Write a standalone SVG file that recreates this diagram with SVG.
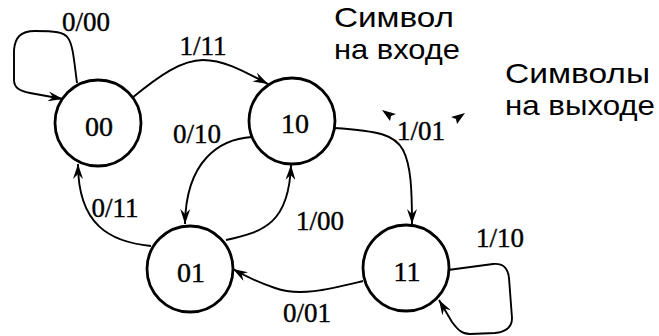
<svg xmlns="http://www.w3.org/2000/svg" width="659" height="336" viewBox="0 0 659 336">
<style>
.node{fill:none;stroke:#000;stroke-width:2.8}
.edge{fill:none;stroke:#000;stroke-width:1.9}
.lbl{font-family:"Liberation Serif","Times New Roman",serif;font-size:27px;fill:#000;stroke:#000;stroke-width:0.4;text-anchor:middle}
.nl{font-family:"Liberation Serif","Times New Roman",serif;font-size:28px;fill:#000;stroke:#000;stroke-width:0.4;text-anchor:middle}
.ru{font-family:"Liberation Sans",Arial,sans-serif;font-size:28px;fill:#000}
</style>
<defs>
<marker id="arr" markerWidth="16" markerHeight="10" refX="15" refY="5" orient="auto" markerUnits="userSpaceOnUse">
<path d="M0,0 L15,5 L0,10 L5,5 z" fill="#000"/>
</marker>
</defs>
<rect width="659" height="336" fill="#fff"/>
<g id="connectors">
<path class="edge" marker-end="url(#arr)" d="M77,83 C74,60 73,45 68,38 C64,32 55,31 35,31 C20,31 15,38 14,50 L14,80 C14,88 20,91 30,93 L63,99"/>
<path class="edge" marker-end="url(#arr)" d="M132,98 C160,75 182,60 203,60 C225,60 245,72 268,84"/>
<path class="edge" marker-end="url(#arr)" d="M252,137 C220,139 186,160 185,224"/>
<path class="edge" marker-end="url(#arr)" d="M226,240 C265,232 289,222 291,165"/>
<path class="edge" marker-end="url(#arr)" d="M151,246 C110,242 78,225 78,164"/>
<path class="edge" marker-end="url(#arr)" d="M334,128 C380,131 395,135 403,150 C411,165 412,190 412,224"/>
<path class="edge" marker-end="url(#arr)" d="M363,281 C330,289 300,297 275,288 C260,283 245,276 233,269"/>
<path class="edge" marker-end="url(#arr)" d="M448,270 L493,264 C503,263 508,268 509,278 L512,318 C512,328 505,332 495,333 L470,334 C462,334 458,330 452,322 L439,300"/>
<path d="M382,110 L396,114 L391,116 L390,121 z" fill="#000"/>
<path d="M465,113 L451,117 L456,119 L457,124 z" fill="#000"/>
</g>
<g id="n00"><circle class="node" cx="98" cy="123" r="43"/><text class="nl" x="99" y="136">00</text></g>
<g id="n10"><circle class="node" cx="292" cy="121" r="43"/><text class="nl" x="295" y="133">10</text></g>
<g id="n01"><circle class="node" cx="190" cy="269" r="43"/><text class="nl" x="191" y="282">01</text></g>
<g id="n11"><circle class="node" cx="406" cy="268" r="43"/><text class="nl" x="407" y="281">11</text></g>
<g id="labels">
<text class="lbl" x="86" y="31">0/00</text>
<text class="lbl" x="203" y="55">1/11</text>
<text class="lbl" x="197" y="143">0/10</text>
<text class="lbl" x="320" y="230">1/00</text>
<text class="lbl" x="115" y="217">0/11</text>
<text class="lbl" x="421" y="140">1/01</text>
<text class="lbl" x="307" y="322">0/01</text>
<text class="lbl" x="500" y="247">1/10</text>
<text class="ru" x="334" y="27" textLength="120" lengthAdjust="spacingAndGlyphs">Символ</text>
<text class="ru" x="334" y="59" textLength="126" lengthAdjust="spacingAndGlyphs">на входе</text>
<text class="ru" x="505" y="83" textLength="145" lengthAdjust="spacingAndGlyphs">Символы</text>
<text class="ru" x="505" y="115" textLength="150" lengthAdjust="spacingAndGlyphs">на выходе</text>
</g>
</svg>
